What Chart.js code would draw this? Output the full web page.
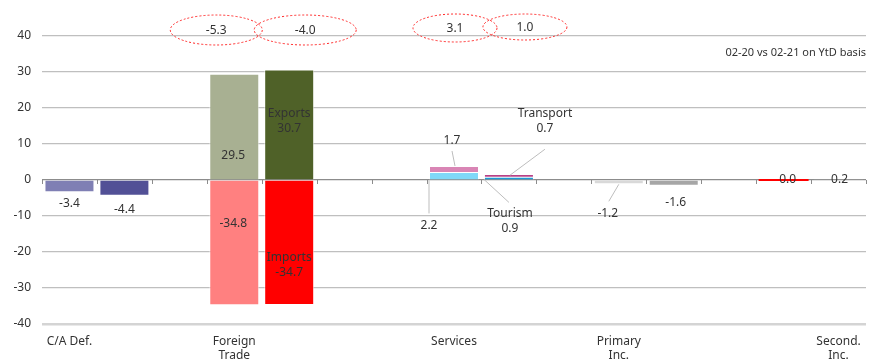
<!DOCTYPE html>
<html>
<head>
<meta charset="utf-8">
<script src="https://cdn.jsdelivr.net/npm/chart.js@4"></script>
<style>
  html, body { margin: 0; padding: 0; background: #fff; }
  #wrap { width: 875px; height: 361px; position: relative; }
</style>
</head>
<body>
<div id="wrap"><canvas id="balanceChart"></canvas></div>
<script>
// --- slots on the x axis (two bars per group, gaps between groups) ---
const slotLabels = ['C/A Def.', '', '', ['Foreign', 'Trade'], '', '', '', 'Services', '', '', ['Primary', 'Inc.'], '', '', '', ['Second.', 'Inc.']];

// 02-20 and 02-21, bn USD on YtD basis
const caDeficit = [-3.4, -4.4];
const exportsVals = [29.5, 30.7];
const importsVals = [-34.8, -34.7];
const tourismVals = [2.2, 0.9];
const transportVals = [1.7, 0.7];
const primaryInc = [-1.2, -1.6];
const secondInc = [0.0, 0.2];

// balances shown in the bubbles on top
const tradeBalance = [-5.3, -4.0];
const servicesBalance = [3.1, 1.0];

const yTicks = [-40, -30, -20, -10, 0, 10, 20, 30, 40];

const FONT = "'Noto Sans', sans-serif";
const TXT = '#333333';

// put a pair of values onto their slots
function onSlots(vals, a, b) {
    const arr = new Array(slotLabels.length).fill(null);
    arr[a] = vals[0];
    arr[b] = vals[1];
    return arr;
}

function colorsOn(c1, c2, a, b) {
    const arr = new Array(slotLabels.length).fill('rgba(0,0,0,0)');
    arr[a] = c1;
    arr[b] = c2;
    return arr;
}

const datasets = [
    { id: 'ca', data: onSlots(caDeficit, 0, 1), backgroundColor: colorsOn('#7f7fb4', '#525096', 0, 1) },
    { id: 'exp', data: onSlots(exportsVals, 3, 4), backgroundColor: colorsOn('#a8b092', '#4f6128', 3, 4) },
    { id: 'imp', data: onSlots(importsVals, 3, 4), backgroundColor: colorsOn('#ff8080', '#ff0000', 3, 4) },
    { id: 'tour', data: onSlots(tourismVals, 7, 8), backgroundColor: colorsOn('#80d8f8', '#1e9ad6', 7, 8) },
    { id: 'trans', data: onSlots(transportVals, 7, 8), backgroundColor: colorsOn('#d985b5', '#a0005e', 7, 8) },
    { id: 'prim', data: onSlots(primaryInc, 10, 11), backgroundColor: colorsOn('#d9d9d9', '#a6a6a6', 10, 11) },
    { id: 'sec', data: onSlots(secondInc, 13, 14), backgroundColor: colorsOn('#ff0000', '#e8e8e8', 13, 14) }
].map(ds => Object.assign(ds, {
    label: ds.id,
    borderColor: 'rgba(255,255,255,0.6)',
    borderWidth: 1,
    barPercentage: 0.91,
    categoryPercentage: 1.0
}));

function dsIndex(id) {
    return datasets.findIndex(d => d.id === id);
}

const fmt = v => v.toFixed(1);

// text offset (dx, dy) and leader line [x1, y1, x2, y2], all relative to the anchor
const valueLabels = [
    { ds: 'ca', slot: 0, lines: [fmt(caDeficit[0])], at: 'top', dx: 0, dy: 11 },
    { ds: 'ca', slot: 1, lines: [fmt(caDeficit[1])], at: 'top', dx: 0, dy: 14 },
    { ds: 'exp', slot: 3, lines: [fmt(exportsVals[0])], at: 'base', dx: -1, dy: -24 },
    { ds: 'exp', slot: 4, lines: ['Exports', fmt(exportsVals[1])], at: 'mid', dx: 0, dy: -3 },
    { ds: 'imp', slot: 3, lines: [fmt(importsVals[0])], at: 'base', dx: -1, dy: 43 },
    { ds: 'imp', slot: 4, lines: ['Imports', fmt(importsVals[1])], at: 'base', dx: 0, dy: 84 },
    { ds: 'tour', slot: 7, lines: [fmt(tourismVals[0])], at: 'left', dx: 0, dy: 46, leader: [0, 1, 0, 34] },
    { ds: 'trans', slot: 7, lines: [fmt(transportVals[0])], at: 'top', dx: -2, dy: -25, leader: [-2, -15, 1, 0] },
    { ds: 'trans', slot: 8, lines: ['Transport', fmt(transportVals[1])], at: 'top', dx: 36, dy: -53, leader: [36, -25, 1, 1] },
    { ds: 'tour', slot: 8, lines: ['Tourism', fmt(tourismVals[1])], at: 'left', dx: 26, dy: 42, leader: [0, 0, 25, 23] },
    { ds: 'prim', slot: 10, lines: [fmt(primaryInc[0])], at: 'top', dx: -11, dy: 29, leader: [0, 0, -10, 17] },
    { ds: 'prim', slot: 11, lines: [fmt(primaryInc[1])], at: 'top', dx: 2, dy: 17 },
    { ds: 'sec', slot: 13, lines: [fmt(secondInc[0])], at: 'base', dx: 4, dy: 0 },
    { ds: 'sec', slot: 14, lines: [fmt(secondInc[1])], at: 'base', dx: 1, dy: 0 }
];

const bubbles = [
    { slot: 3, text: fmt(tradeBalance[0]), dx: -18, y: 30, rx: 46, ry: 15 },
    { slot: 4, text: fmt(tradeBalance[1]), dx: 16, y: 30, rx: 51, ry: 15 },
    { slot: 7, text: fmt(servicesBalance[0]), dx: 1, y: 28, rx: 42, ry: 14 },
    { slot: 8, text: fmt(servicesBalance[1]), dx: 16, y: 27, rx: 42, ry: 13 }
];

const annotationsPlugin = {
    id: 'annotations',
    afterDatasetsDraw(chart) {
        const ctx = chart.ctx;
        const xs = chart.scales.x;
        const zeroY = chart.scales.y.getPixelForValue(0);
        ctx.save();

        // small tick marks under the zero line, one per slot boundary
        const slotW = xs.getPixelForValue(1) - xs.getPixelForValue(0);
        ctx.strokeStyle = '#8c8c8c';
        ctx.lineWidth = 1;
        ctx.beginPath();
        for (let i = 0; i <= slotLabels.length; i++) {
            const x = Math.round(xs.getPixelForValue(0) - slotW / 2 + i * slotW) + 0.5;
            ctx.moveTo(x, zeroY);
            ctx.lineTo(x, zeroY + 4);
        }
        ctx.stroke();

        // zero-height bars get a hairline in their own colour
        const zeroBar = chart.getDatasetMeta(dsIndex('sec')).data[13];
        ctx.strokeStyle = '#ff0000';
        ctx.lineWidth = 2;
        ctx.beginPath();
        ctx.moveTo(zeroBar.x - zeroBar.width / 2, zeroBar.base);
        ctx.lineTo(zeroBar.x + zeroBar.width / 2, zeroBar.base);
        ctx.stroke();

        ctx.font = '12px ' + FONT;
        ctx.textAlign = 'center';
        ctx.textBaseline = 'middle';

        valueLabels.forEach(l => {
            const el = chart.getDatasetMeta(dsIndex(l.ds)).data[l.slot];
            let ax = el.x, ay = el.y;
            if (l.at === 'base') ay = el.base;
            if (l.at === 'mid') ay = (el.y + el.base) / 2;
            if (l.at === 'left') { ax = el.x - el.width / 2; ay = el.base; }

            if (l.leader) {
                const [x1, y1, x2, y2] = l.leader;
                ctx.strokeStyle = '#bdbdbd';
                ctx.lineWidth = 1;
                ctx.beginPath();
                ctx.moveTo(ax + x1, ay + y1);
                ctx.lineTo(ax + x2, ay + y2);
                ctx.stroke();
            }

            ctx.fillStyle = TXT;
            const n = l.lines.length;
            l.lines.forEach((line, k) => {
                ctx.fillText(line, ax + l.dx, ay + l.dy + (k - (n - 1) / 2) * 15);
            });
        });

        // dashed bubbles with the balances
        bubbles.forEach(b => {
            const cx = xs.getPixelForValue(b.slot) + b.dx;
            ctx.strokeStyle = '#ff2a2a';
            ctx.lineWidth = 1;
            ctx.setLineDash([2, 2]);
            ctx.beginPath();
            ctx.ellipse(cx, b.y, b.rx, b.ry, 0, 0, Math.PI * 2);
            ctx.stroke();
            ctx.setLineDash([]);
            ctx.fillStyle = TXT;
            ctx.fillText(b.text, cx, b.y + 1);
        });

        // note in the top right corner
        ctx.font = '11px ' + FONT;
        ctx.textAlign = 'right';
        ctx.fillText('02-20 vs 02-21 on YtD basis', chart.chartArea.right, 53);

        ctx.restore();
    }
};

new Chart(document.getElementById('balanceChart'), {
    type: 'bar',
    data: { labels: slotLabels, datasets: datasets },
    plugins: [annotationsPlugin],
    options: {
        responsive: true,
        maintainAspectRatio: false,
        animation: false,
        layout: { padding: { top: 36, right: 9, bottom: 0, left: 0 } },
        plugins: {
            legend: { display: false },
            tooltip: { enabled: false }
        },
        scales: {
            x: {
                stacked: true,
                offset: true,
                grid: { display: false },
                border: { display: false },
                afterFit: s => { s.height = 37; },
                ticks: {
                    autoSkip: false,
                    maxRotation: 0,
                    padding: 3,
                    color: TXT,
                    font: { family: FONT, size: 12, lineHeight: 1.15 }
                }
            },
            y: {
                stacked: true,
                min: -40,
                max: 40,
                afterBuildTicks: s => { s.ticks = yTicks.map(v => ({ value: v })); },
                afterFit: s => { s.width = 42; },
                border: { display: false },
                grid: {
                    drawTicks: false,
                    color: c => c.tick.value === 0 ? '#8c8c8c' : (c.tick.value === -40 ? '#d4d4d4' : '#bfbfbf'),
                    lineWidth: c => c.tick.value === -40 ? 2.5 : 1.2
                },
                ticks: {
                    padding: 11,
                    color: TXT,
                    font: { family: FONT, size: 12 }
                }
            }
        }
    }
});
</script>
</body>
</html>
